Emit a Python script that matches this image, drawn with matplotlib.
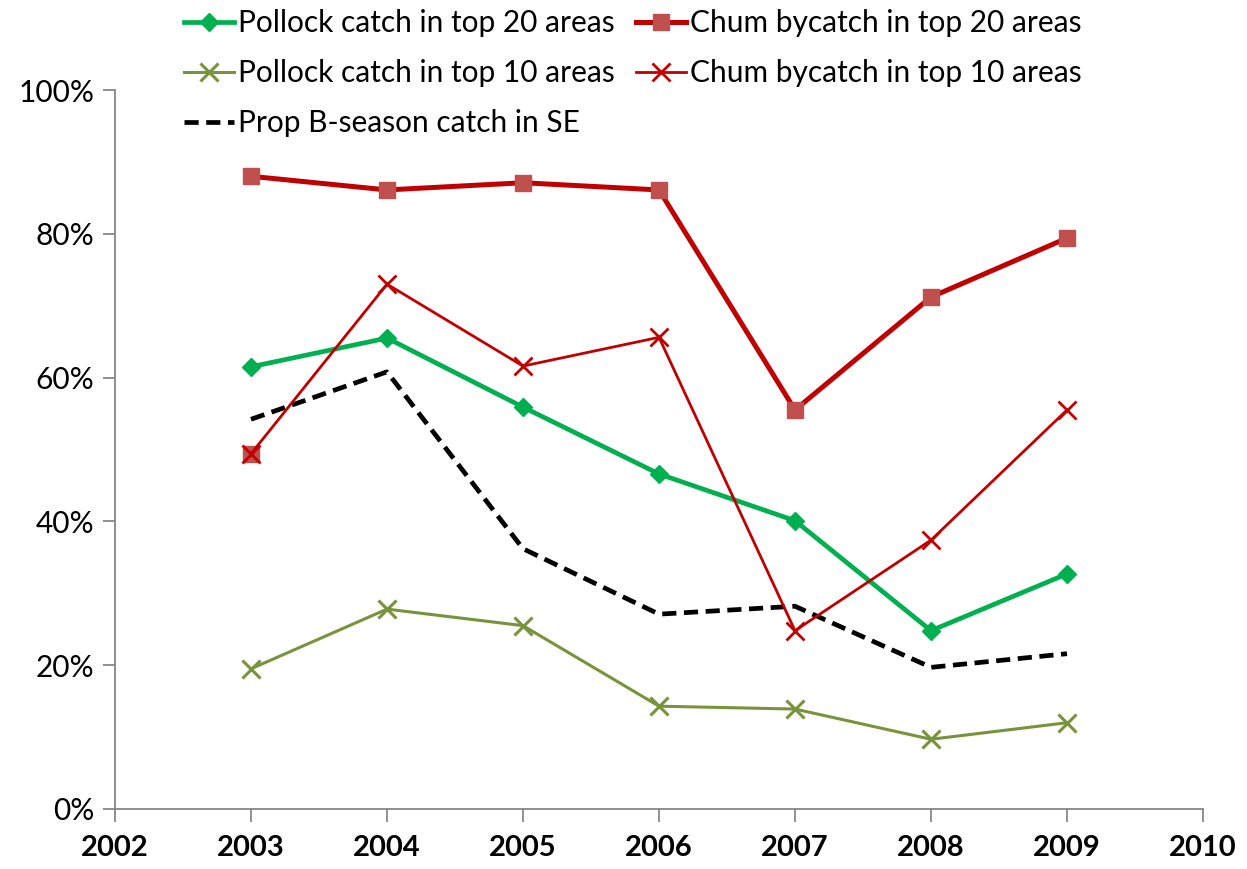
import matplotlib
matplotlib.use("Agg")
import matplotlib.pyplot as plt
from matplotlib.ticker import FuncFormatter

plt.rcParams['font.family'] = ['Lato', 'DejaVu Sans']

years = [2003, 2004, 2005, 2006, 2007, 2008, 2009]
pollock_top20 = [61.5, 65.5, 55.9, 46.6, 40.1, 24.8, 32.7]
chum_top20 = [88.0, 86.1, 87.1, 86.1, 55.5, 71.2, 79.4]
pollock_top10 = [19.5, 27.8, 25.5, 14.3, 13.9, 9.7, 12.0]
chum_top10 = [49.4, 73.0, 61.6, 65.6, 24.8, 37.4, 55.5]
prop_b_season_se = [54.2, 60.8, 36.2, 27.1, 28.2, 19.7, 21.6]
# lone chum top-20 point plotted without a connecting line
chum_top20_extra_year = [2003]
chum_top20_extra_value = [49.4]

x_ticks = list(range(2002, 2011))
y_ticks = [0, 20, 40, 60, 80, 100]

fig = plt.figure(figsize=(12.47, 8.69), dpi=100)
ax = fig.add_axes([115 / 1247, 60 / 869, (1203 - 115) / 1247, (809 - 90) / 869])

green = '#00B050'
olive = '#77933C'
dark_red = '#C00000'
sq_red = '#C0504D'

l1, = ax.plot(years, pollock_top20, color=green, lw=3.4, marker='D',
              ms=9, mfc=green, mec=green, label='Pollock catch in top 20 areas')
l4, = ax.plot(years, pollock_top10, color=olive, lw=2.2, marker='x',
              ms=13, mew=2.2, mec=olive, label='Pollock catch in top 10 areas')
l5, = ax.plot(years, prop_b_season_se, color='black', lw=3.4, ls=(0, (3, 1.6)),
              label='Prop B-season catch in SE')
ax.plot(chum_top20_extra_year, chum_top20_extra_value, ls='none', marker='s',
        ms=12, mfc=sq_red, mec=sq_red, zorder=2)
l2, = ax.plot(years, chum_top20, color=dark_red, lw=3.6, marker='s',
              ms=12, mfc=sq_red, mec=sq_red, label='Chum bycatch in top 20 areas')
l3, = ax.plot(years, chum_top10, color=dark_red, lw=2.0, marker='x',
              ms=13, mew=2.0, mec=dark_red, label='Chum bycatch in top 10 areas')

ax.set_xlim(2002, 2010)
ax.set_ylim(0, 100)
ax.set_xticks(x_ticks)
ax.set_yticks(y_ticks)
ax.yaxis.set_major_formatter(FuncFormatter(lambda v, p: f"{int(v)}%"))

for s in ['top', 'right']:
    ax.spines[s].set_visible(False)
for s in ['left', 'bottom']:
    ax.spines[s].set_color('#868686')
    ax.spines[s].set_linewidth(1.3)
ax.tick_params(axis='both', direction='out', color='#868686', width=1.3, length=9)
ax.tick_params(axis='y', labelsize=21.5, pad=6)
ax.tick_params(axis='x', labelsize=21, pad=10)
for lbl in ax.get_xticklabels():
    lbl.set_fontweight('bold')

handles = [l1, l4, l5, l2, l3]
leg = fig.legend(handles, [h.get_label() for h in handles], ncol=2,
                 loc='upper left', bbox_to_anchor=(181 / 1247, 1.0 - 6 / 869),
                 frameon=False, fontsize=21.5, handlelength=1.67,
                 handletextpad=0.15, columnspacing=0.7, labelspacing=0.74,
                 borderaxespad=0.0, borderpad=0.1)

fig.savefig('out.png', dpi=100)
